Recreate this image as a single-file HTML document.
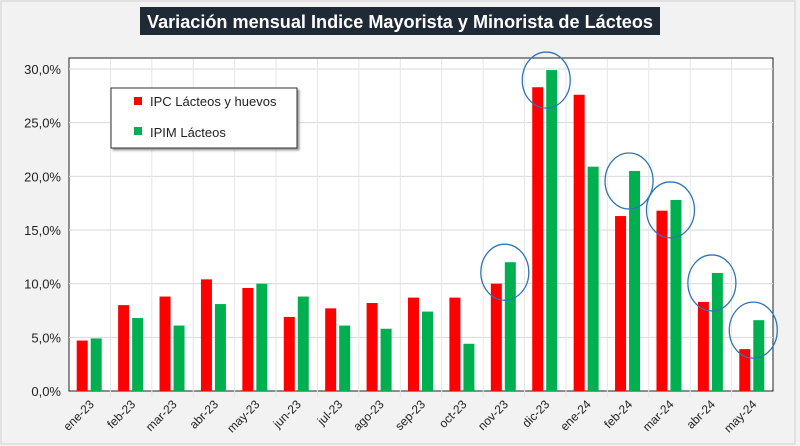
<!DOCTYPE html>
<html><head><meta charset="utf-8"><style>
body{margin:0;background:#f2f2f2;font-family:"Liberation Sans",sans-serif}
#wrap{position:relative;width:800px;height:446px;background:#f2f2f2;overflow:hidden}
</style></head><body>
<div id="wrap">
<svg id="svg" width="800" height="446" xmlns="http://www.w3.org/2000/svg">
<rect x="1" y="1" width="794" height="443" fill="#f2f2f2" stroke="#d0d0d0"/>
<rect x="140" y="7" width="520" height="28" fill="#1f2a36"/>
<text x="400" y="28" text-anchor="middle" fill="#fff" font-size="18" font-weight="bold" textLength="506" lengthAdjust="spacingAndGlyphs">Variación mensual Indice Mayorista y Minorista de Lácteos</text>
<rect x="69" y="58" width="704" height="333" fill="#fff" stroke="#222"/>
<g id="grid"></g><g id="bars"></g><g id="circles"></g><g id="axes"></g>
<g>
<rect x="111" y="88" width="186" height="60" fill="#fff" stroke="#333" style="filter:drop-shadow(2px 2px 1px #999)"/>
<rect x="134" y="97" width="8" height="8" fill="#ff0000"/>
<text x="150" y="106" font-size="13" fill="#222">IPC Lácteos y huevos</text>
<rect x="134" y="127" width="8" height="8" fill="#00b050"/>
<text x="150" y="137" font-size="13" fill="#222">IPIM Lácteos</text>
</g>
</svg>
</div>
<script>
const categories=["ene-23","feb-23","mar-23","abr-23","may-23","jun-23","jul-23","ago-23","sep-23","oct-23","nov-23","dic-23","ene-24","feb-24","mar-24","abr-24","may-24"];
const ipcValues=[4.7,8.0,8.8,10.4,9.6,6.9,7.7,8.2,8.7,8.7,10.0,28.3,27.6,16.3,16.8,8.3,3.9];
const ipimValues=[4.9,6.8,6.1,8.1,10.0,8.8,6.1,5.8,7.4,4.4,12.0,29.9,20.9,20.5,17.8,11.0,6.6];
const yTicks=[0,5,10,15,20,25,30];
const yTickLabels=["0,0%","5,0%","10,0%","15,0%","20,0%","25,0%","30,0%"];
const circledCategories=["nov-23","dic-23","feb-24","mar-24","abr-24","may-24"];
const NS="http://www.w3.org/2000/svg";
const X0=69,X1=773,Y0=391,Y30=69;
const bw=(X1-X0)/categories.length;
function y(v){return Y0-(v/30)*(Y0-Y30);}
function xc(i){return X0+bw*(i+0.5);}
function mk(t,a,p){const e=document.createElementNS(NS,t);for(const k in a)e.setAttribute(k,a[k]);document.getElementById(p).appendChild(e);return e;}
yTicks.forEach((t,i)=>{
 if(t>0){const l=mk('line',{x1:X0,x2:X1,y1:y(t),y2:y(t),stroke:'#d9d9d9'},'grid');
 
 }
 const tx=mk('text',{x:X0-8,y:y(t)+5,'text-anchor':'end','font-size':13,fill:'#222'},'axes');
 tx.textContent=yTickLabels[i];
 
 
});
categories.forEach((c,i)=>{
 if(i>0){const l=mk('line',{x1:X0+bw*i,x2:X0+bw*i,y1:59,y2:Y0+6,stroke:'#e6e6e6'},'grid');
 
 }
 const r=mk('rect',{x:xc(i)-13,y:y(ipcValues[i]),width:11,height:Y0-y(ipcValues[i]),fill:'#ff0000'},'bars');
 
 
 const g=mk('rect',{x:xc(i)+1,y:y(ipimValues[i]),width:11,height:Y0-y(ipimValues[i]),fill:'#00b050'},'bars');
 
 
 const tx=mk('text',{x:xc(i)+5,y:Y0+14,'text-anchor':'end','font-size':12,fill:'#222',transform:`rotate(-45 ${xc(i)+5} ${Y0+14})`},'axes');
 tx.textContent=c;
 
 
 if(circledCategories.includes(c)){
  const e=mk('ellipse',{cx:xc(i)+1,cy:y(ipimValues[i])+10,rx:24,ry:28,fill:'none',stroke:'#2e75b6','stroke-width':1.3},'circles');
  
  
 }
});
</script>
</body></html>
